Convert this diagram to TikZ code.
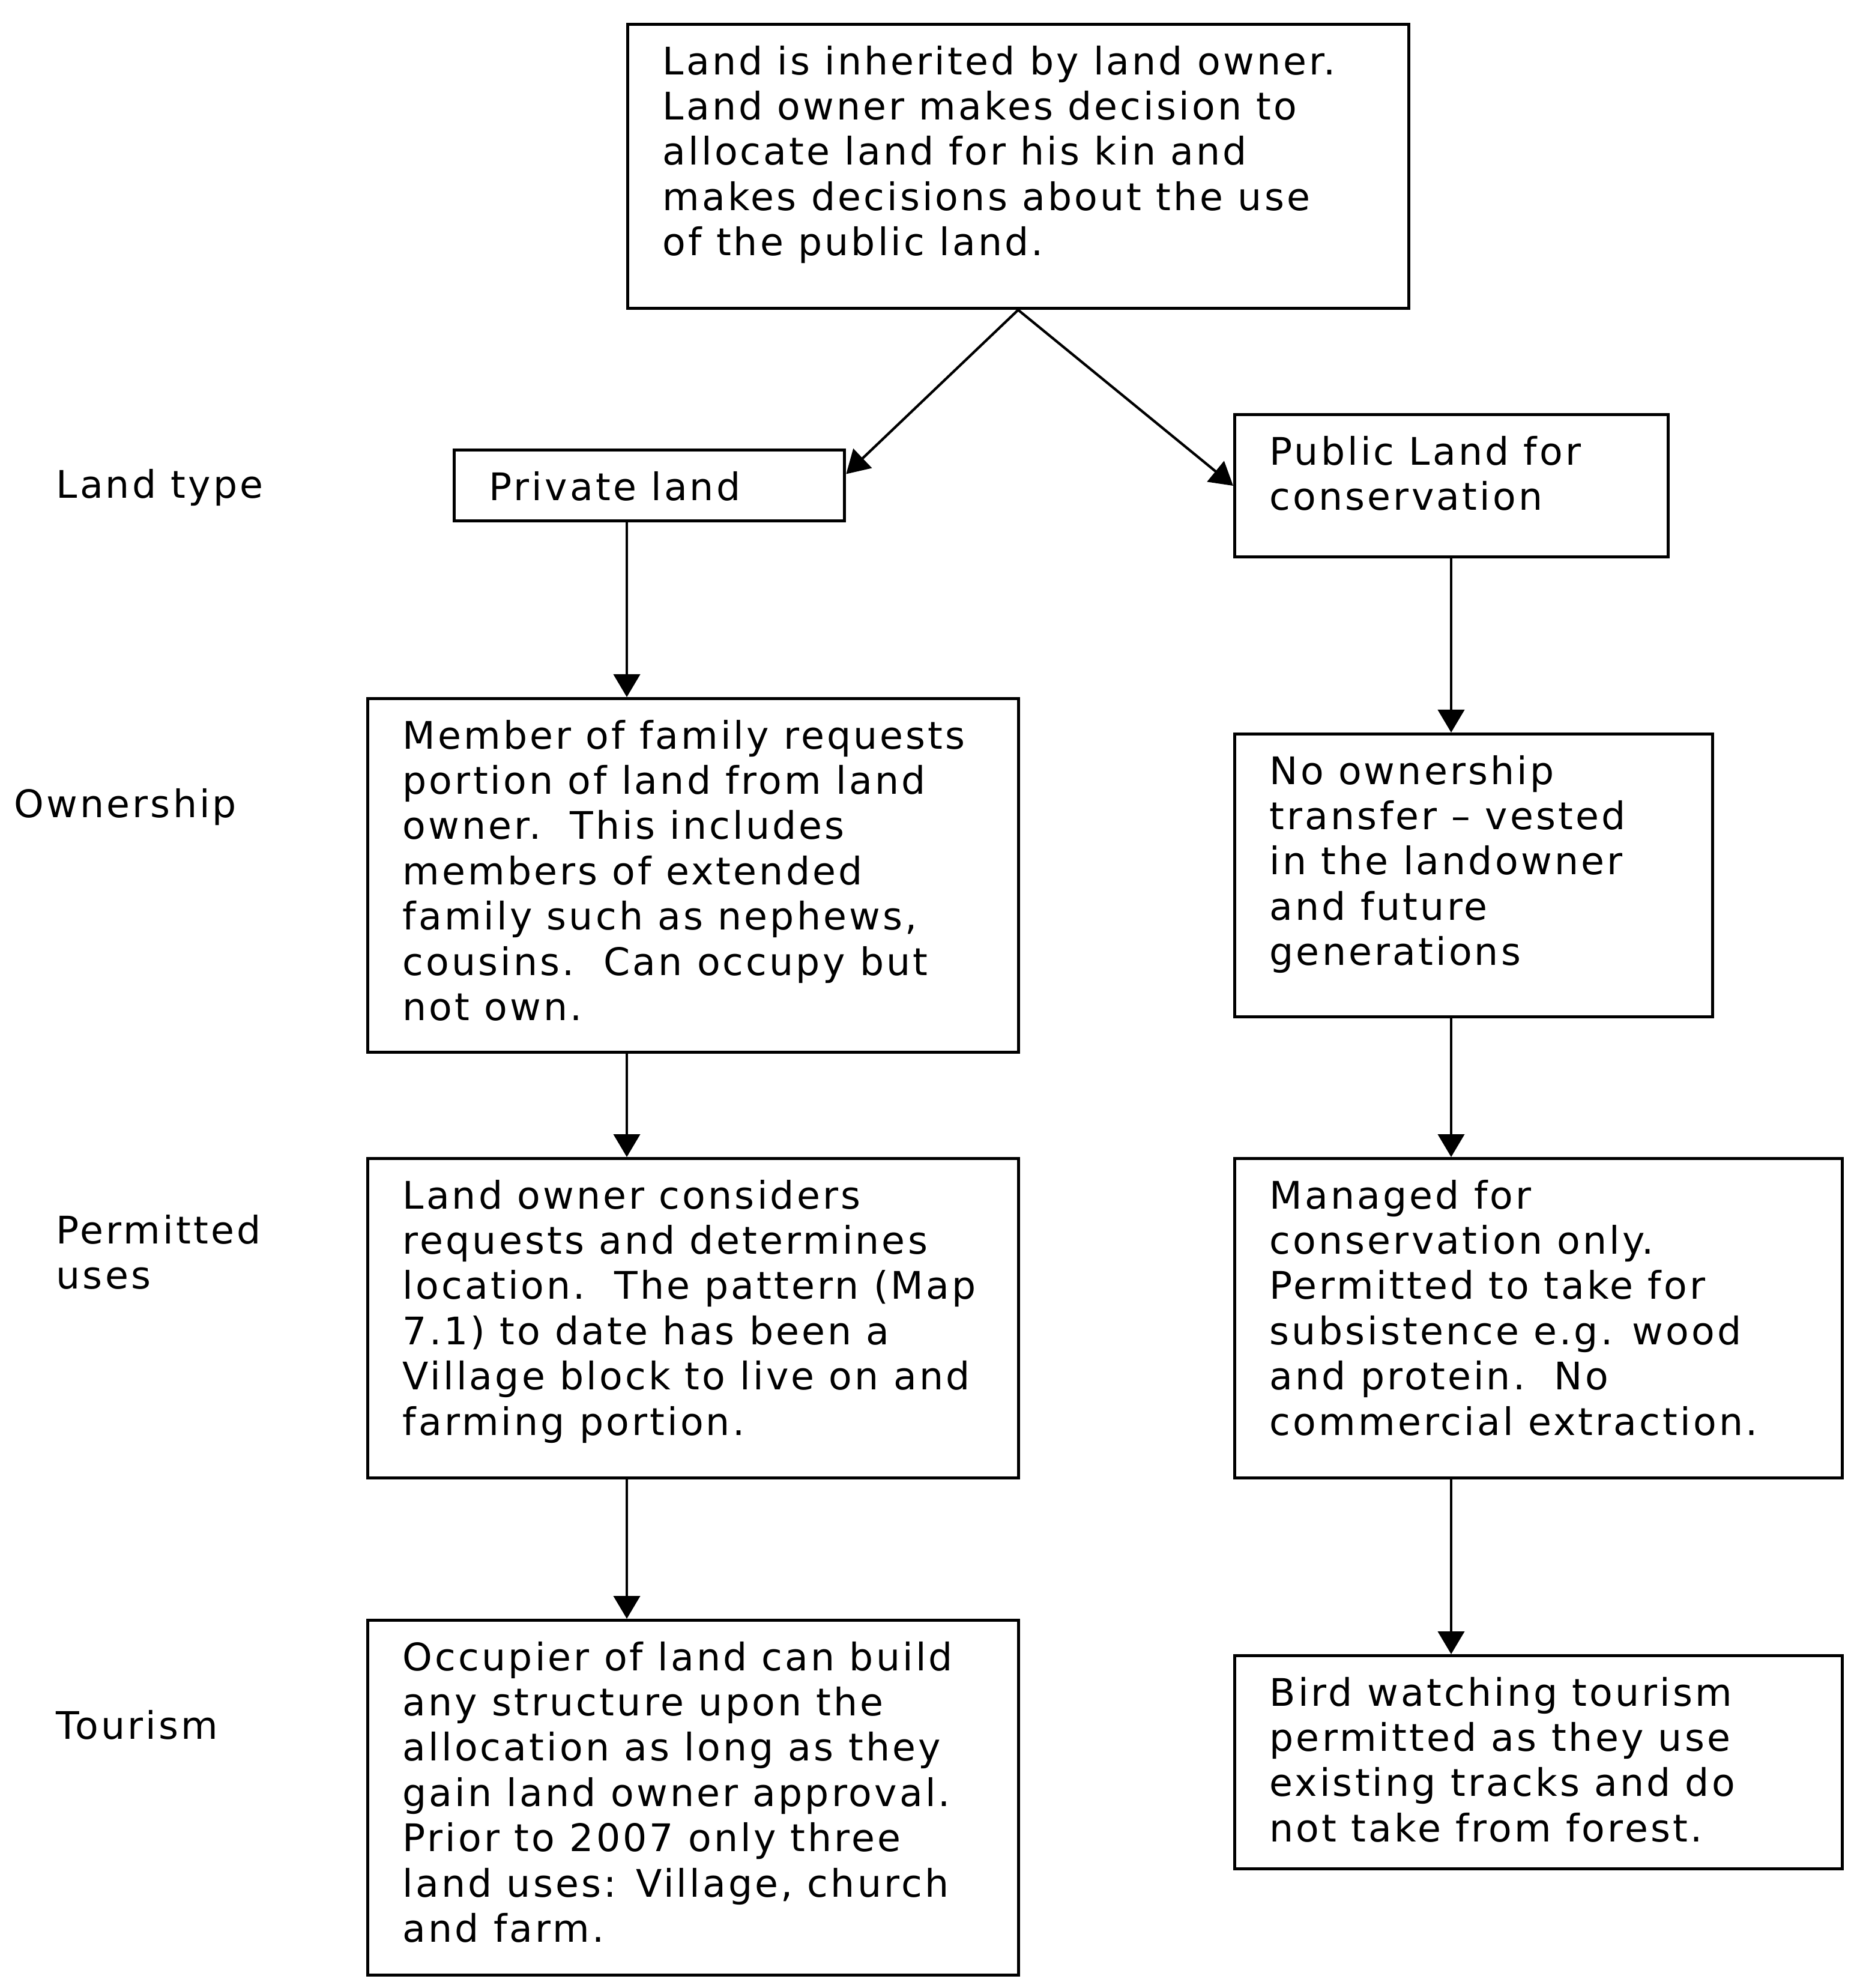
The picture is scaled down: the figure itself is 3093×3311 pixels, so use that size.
\documentclass[tikz,border=0pt]{standalone}
\usepackage{fontspec}
\setmainfont{DejaVu Sans}[LetterSpace=6.5]
\usetikzlibrary{arrows.meta}
\newcommand{\boxtext}[1]{\parbox[t]{12cm}{\raggedright\fontsize{18pt}{21.45pt}\selectfont #1}}
\begin{document}
\begin{tikzpicture}[x=0.01cm,y=-0.01cm,
  box/.style={draw, line width=1.4pt, inner sep=0pt, anchor=north west},
  txt/.style={anchor=base west, inner sep=0pt},
  arr/.style={line width=1.2pt, -{Triangle[length=0.38cm,width=0.44cm]}}]
\useasboundingbox (0,0) rectangle (3093,3311);
\fill[white] (0,0) rectangle (3093,3311);

% boxes
\node[box, minimum width=13.00cm, minimum height=4.73cm] (top) at (1043,38) {};
\node[box, minimum width=6.50cm, minimum height=1.18cm] (priv) at (754,747) {};
\node[box, minimum width=7.22cm, minimum height=2.37cm] (pub) at (2054,688) {};
\node[box, minimum width=10.83cm, minimum height=5.89cm] (mem) at (610,1161) {};
\node[box, minimum width=7.96cm, minimum height=4.71cm] (noown) at (2054,1220) {};
\node[box, minimum width=10.83cm, minimum height=5.32cm] (cons) at (610,1927) {};
\node[box, minimum width=10.11cm, minimum height=5.32cm] (mgd) at (2054,1927) {};
\node[box, minimum width=10.83cm, minimum height=5.91cm] (occ) at (610,2696) {};
\node[box, minimum width=10.11cm, minimum height=3.55cm] (bird) at (2054,2755) {};

% texts
\node[txt] (ttop) at (1103,124) {\boxtext{Land is inherited by land owner.\\Land owner makes decision to\\allocate land for his kin and\\makes decisions about the use\\of the public land.}};
\node[txt] (tpriv) at (814,833) {\boxtext{Private land}};
\node[txt] (tpub) at (2114,774) {\boxtext{Public Land for\\conservation}};
\node[txt] (tmem) at (670,1247) {\boxtext{Member of family requests\\portion of land from land\\owner.~~This includes\\members of extended\\family such as nephews,\\cousins.~~Can occupy but\\not own.}};
\node[txt] (tnoown) at (2114,1306) {\boxtext{No ownership\\transfer – vested\\in the landowner\\and future\\generations}};
\node[txt] (tcons) at (670,2013) {\boxtext{Land owner considers\\requests and determines\\location.~~The pattern (Map\\7.1) to date has been a\\Village block to live on and\\farming portion.}};
\node[txt] (tmgd) at (2114,2013) {\boxtext{Managed for\\conservation only.\\Permitted to take for\\subsistence e.g. wood\\and protein.~~No\\commercial extraction.}};
\node[txt] (tocc) at (670,2782) {\boxtext{Occupier of land can build\\any structure upon the\\allocation as long as they\\gain land owner approval.\\Prior to 2007 only three\\land uses: Village, church\\and farm.}};
\node[txt] (tbird) at (2114,2841) {\boxtext{Bird watching tourism\\permitted as they use\\existing tracks and do\\not take from forest.}};

% row labels
\node[txt] (lland) at (93,829) {\boxtext{Land type}};
\node[txt] (lown) at (23,1361) {\boxtext{Ownership}};
\node[txt] (lperm) at (93,2071) {\boxtext{Permitted\\uses}};
\node[txt] (ltour) at (93,2896) {\boxtext{Tourism}};

% connectors
\coordinate (lc) at (1044,0);
\coordinate (rc) at (2417,0);
\draw[arr] (top.south) -- ([yshift=0.19cm]priv.east);
\draw[arr] (top.south) -- (pub.west);
\draw[arr] (priv.south -| lc) -- (mem.north -| lc);
\draw[arr] (mem.south -| lc) -- (cons.north -| lc);
\draw[arr] (cons.south -| lc) -- (occ.north -| lc);
\draw[arr] (pub.south -| rc) -- (noown.north -| rc);
\draw[arr] (noown.south -| rc) -- (mgd.north -| rc);
\draw[arr] (mgd.south -| rc) -- (bird.north -| rc);
\end{tikzpicture}
\end{document}
